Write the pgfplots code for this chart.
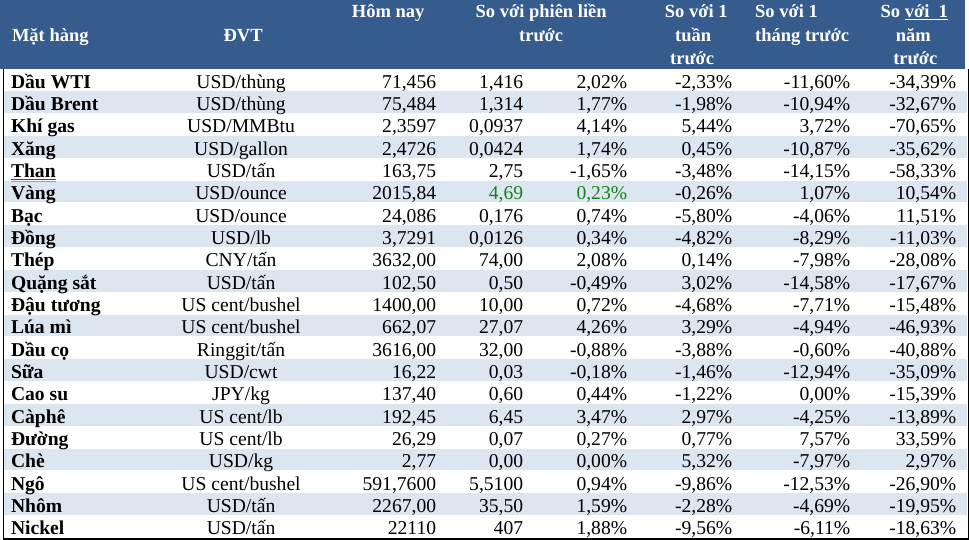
\documentclass[border=0pt]{standalone}
\usepackage{pgfplots}
\usepackage{pgfplotstable}
\pgfplotsset{compat=1.18}
\usepackage{fontspec}
\setmainfont{Liberation Serif}
\definecolor{hdr}{RGB}{54,92,142}
\definecolor{band}{RGB}{220,230,241}
\definecolor{vgreen}{RGB}{20,130,20}
\definecolor{ulA}{RGB}{40,70,140}
\definecolor{ulB}{RGB}{130,160,210}
\DeclareRobustCommand\dbl[1]{\setbox0\hbox{#1}\rlap{\raisebox{-2.5pt}{\textcolor{ulA}{\rule{\wd0}{1.1pt}}}}\rlap{\raisebox{-4.6pt}{\textcolor{ulB}{\rule{\wd0}{1.1pt}}}}#1}

\pgfplotstableread[col sep=semicolon]{
y;name;unit;today;dabs;dpct;wk;mo;yr
90.2;Dầu WTI;USD/thùng;71,456;1,416;2,02;-2,33;-11,60;-34,39
112.5;Dầu Brent;USD/thùng;75,484;1,314;1,77;-1,98;-10,94;-32,67
134.9;Khí gas;USD/MMBtu;2,3597;0,0937;4,14;5,44;3,72;-70,65
157.2;Xăng;USD/gallon;2,4726;0,0424;1,74;0,45;-10,87;-35,62
179.5;\dbl{Than};USD/tấn;163,75;2,75;-1,65;-3,48;-14,15;-58,33
201.9;Vàng;USD/ounce;2015,84;\color{vgreen}4,69;\color{vgreen}0,23;-0,26;1,07;10,54
224.2;Bạc;USD/ounce;24,086;0,176;0,74;-5,80;-4,06;11,51
246.5;Đồng;USD/lb;3,7291;0,0126;0,34;-4,82;-8,29;-11,03
268.8;Thép;CNY/tấn;3632,00;74,00;2,08;0,14;-7,98;-28,08
291.2;Quặng sắt;USD/tấn;102,50;0,50;-0,49;3,02;-14,58;-17,67
313.5;Đậu tương;US cent/bushel;1400,00;10,00;0,72;-4,68;-7,71;-15,48
335.8;Lúa mì;US cent/bushel;662,07;27,07;4,26;3,29;-4,94;-46,93
358.2;Dầu cọ;Ringgit/tấn;3616,00;32,00;-0,88;-3,88;-0,60;-40,88
380.5;Sữa;USD/cwt;16,22;0,03;-0,18;-1,46;-12,94;-35,09
402.8;Cao su;JPY/kg;137,40;0,60;0,44;-1,22;0,00;-15,39
425.2;Càphê;US cent/lb;192,45;6,45;3,47;2,97;-4,25;-13,89
447.5;Đường;US cent/lb;26,29;0,07;0,27;0,77;7,57;33,59
469.8;Chè;USD/kg;2,77;0,00;0,00;5,32;-7,97;2,97
492.1;Ngô;US cent/bushel;591,7600;5,5100;0,94;-9,86;-12,53;-26,90
514.5;Nhôm;USD/tấn;2267,00;35,50;1,59;-2,28;-4,69;-19,95
536.8;Nickel;USD/tấn;22110;407;1,88;-9,56;-6,11;-18,63
}\rows

\pgfplotstableread[col sep=semicolon]{
x;y;t
243;43.5;ĐVT
388;20;Hôm nay
541;20;So với phiên liền
541;43.5;trước
696;20;So với 1
693;43.5;tuần
692;66.5;trước
914;20;So \underline{với\ \ 1}
913;43.5;năm
915;66.5;trước
}\hdrC

\pgfplotstableread[col sep=semicolon]{
x;y;t
12;43.5;Mặt hàng
755;20;So với 1
755;43.5;tháng trước
}\hdrL

\pgfplotsset{
  txt/.style={only marks, mark=none, nodes near coords, point meta=explicit symbolic,
    every node near coord/.append style={inner sep=0pt, outer sep=0pt}},
  body/.style={every node near coord/.append style={font=\fontsize{19.6}{22}\selectfont, text=black}},
  head/.style={every node near coord/.append style={font=\bfseries\fontsize{18.5}{22}\selectfont, text=white}},
}

\begin{document}
\begin{tikzpicture}
\begin{axis}[width=969pt, height=542pt, scale only axis,
  xmin=0, xmax=969, ymin=0, ymax=542, y dir=reverse,
  hide axis, clip=false]
% header background
\addplot[fill=hdr, draw=none] coordinates {(0,2)(965,2)(965,71)(0,71)};
% alternating row bands
\addplot[fill=band, draw=none] coordinates {(4,93.3)(967,93.3)(967,114.9)(4,114.9)};
\addplot[fill=band, draw=none] coordinates {(4,138.0)(967,138.0)(967,159.6)(4,159.6)};
\addplot[fill=band, draw=none] coordinates {(4,182.7)(967,182.7)(967,204.3)(4,204.3)};
\addplot[fill=band, draw=none] coordinates {(4,227.3)(967,227.3)(967,248.9)(4,248.9)};
\addplot[fill=band, draw=none] coordinates {(4,272.0)(967,272.0)(967,293.6)(4,293.6)};
\addplot[fill=band, draw=none] coordinates {(4,316.6)(967,316.6)(967,338.2)(4,338.2)};
\addplot[fill=band, draw=none] coordinates {(4,361.3)(967,361.3)(967,382.9)(4,382.9)};
\addplot[fill=band, draw=none] coordinates {(4,406.0)(967,406.0)(967,427.6)(4,427.6)};
\addplot[fill=band, draw=none] coordinates {(4,450.6)(967,450.6)(967,472.2)(4,472.2)};
\addplot[fill=band, draw=none] coordinates {(4,495.3)(967,495.3)(967,516.9)(4,516.9)};
% borders
\addplot[black, line width=1.5pt] coordinates {(3.5,71)(3.5,540.7)(968,540.7)(968,71)};
% header text
\addplot[txt, head, nodes near coords align={anchor=base}] table[x=x, y=y, meta=t] {\hdrC};
\addplot[txt, head, nodes near coords align={anchor=base west}] table[x=x, y=y, meta=t] {\hdrL};
% body text
\addplot[txt, body, nodes near coords align={anchor=base west},
  every node near coord/.append style={font=\bfseries\fontsize{19.6}{22}\selectfont}]
  table[x expr=11, y=y, meta=name] {\rows};
\addplot[txt, body, nodes near coords align={anchor=base}] table[x expr=241, y=y, meta=unit] {\rows};
\addplot[txt, body, nodes near coords align={anchor=base east}] table[x expr=436, y=y, meta=today] {\rows};
\addplot[txt, body, nodes near coords align={anchor=base east}] table[x expr=523, y=y, meta=dabs] {\rows};
\addplot[txt, body, nodes near coords align={anchor=base east}, nodes near coords={\pgfplotspointmeta\%}] table[x expr=627, y=y, meta=dpct] {\rows};
\addplot[txt, body, nodes near coords align={anchor=base east}, nodes near coords={\pgfplotspointmeta\%}] table[x expr=732, y=y, meta=wk] {\rows};
\addplot[txt, body, nodes near coords align={anchor=base east}, nodes near coords={\pgfplotspointmeta\%}] table[x expr=850, y=y, meta=mo] {\rows};
\addplot[txt, body, nodes near coords align={anchor=base east}, nodes near coords={\pgfplotspointmeta\%}] table[x expr=956, y=y, meta=yr] {\rows};
\end{axis}
\end{tikzpicture}
\end{document}
